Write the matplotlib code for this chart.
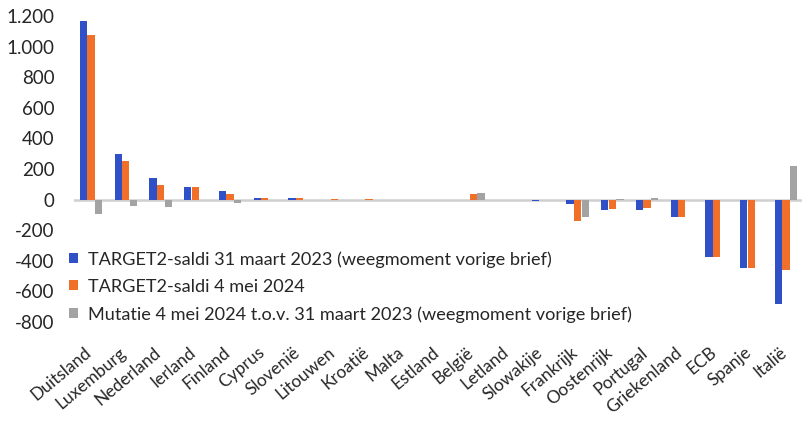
import matplotlib
matplotlib.use("Agg")
import matplotlib.pyplot as plt
import matplotlib.transforms as mtransforms
import numpy as np
from matplotlib.ticker import FuncFormatter

categories = ["Duitsland", "Luxemburg", "Nederland", "Ierland", "Finland", "Cyprus",
              "Slovenië", "Litouwen", "Kroatië", "Malta", "Estland", "België",
              "Letland", "Slowakije", "Frankrijk", "Oostenrijk", "Portugal",
              "Griekenland", "ECB", "Spanje", "Italië"]
saldi_2023 = [1165, 295, 141, 85, 59, 9, 8, 0, 0, 0, 0, -5,
              0, -8, -28, -67, -67, -115, -374, -448, -685]
saldi_2024 = [1075, 250, 93, 85, 37, 8, 8, 5, 6, 0, 0, 38,
              0, 0, -141, -61, -54, -115, -374, -448, -463]
mutatie = [-95, -44, -48, 0, -20, 0, 0, 0, 0, 0, 0, 43,
           0, 0, -115, 6, 8, 0, 0, 0, 217]
series_labels = ["TARGET2-saldi 31 maart 2023 (weegmoment vorige brief)",
                 "TARGET2-saldi 4 mei 2024",
                 "Mutatie 4 mei 2024 t.o.v. 31 maart 2023 (weegmoment vorige brief)"]
yticks = [-800, -600, -400, -200, 0, 200, 400, 600, 800, 1000, 1200]

colors = ["#3050C8", "#F0702A", "#A3A3A3"]

plt.rcParams['font.family'] = ['Lato', 'DejaVu Sans']

W, H = 802, 421
fig = plt.figure(figsize=(W / 100, H / 100), dpi=100)
left, right, top, bottom = 73.6, 802, 16, 322
ax = fig.add_axes([left / W, 1 - bottom / H, (right - left) / W, (bottom - top) / H])

x = np.arange(len(categories))
bw = 0.21
h1 = ax.bar(x - 0.216, saldi_2023, bw, color=colors[0], label=series_labels[0], zorder=3)
h2 = ax.bar(x, saldi_2024, bw, color=colors[1], label=series_labels[1], zorder=3)
h3 = ax.bar(x + 0.225, mutatie, bw, color=colors[2], label=series_labels[2], zorder=3)

ax.axhline(0, color="#CFCFCF", lw=1.8, zorder=2)
ax.set_xlim(-0.5, 20.5 - (803.4 - 802) / 34.75)
ax.set_ylim(-800, 1200)
ax.set_yticks(yticks)
ax.yaxis.set_major_formatter(FuncFormatter(lambda v, p: f"{int(v):,}".replace(",", ".")))
for s in ax.spines.values():
    s.set_visible(False)
ax.tick_params(axis='y', length=0, pad=13.5, labelsize=13.5, labelcolor="#262626")
ax.tick_params(axis='x', length=0, pad=16, labelsize=12.5, labelcolor="#262626")
ax.set_xticks(x)
ax.set_xticklabels(categories, rotation=40, ha='right', va='top', rotation_mode='anchor')
offset = mtransforms.ScaledTranslation(-7 / 100, 0, fig.dpi_scale_trans)
for lab in ax.get_xticklabels():
    lab.set_transform(lab.get_transform() + offset)

leg = fig.legend(handles=[h1, h2, h3], loc='upper left',
                 bbox_to_anchor=(69 / W, 1 - 251 / H), frameon=False,
                 fontsize=13.1, handlelength=0.47, handleheight=0.47,
                 handletextpad=0.55, labelspacing=0.62, borderpad=0, borderaxespad=0)
for t in leg.get_texts():
    t.set_color("#262626")

fig.savefig("out.png", dpi=100)
